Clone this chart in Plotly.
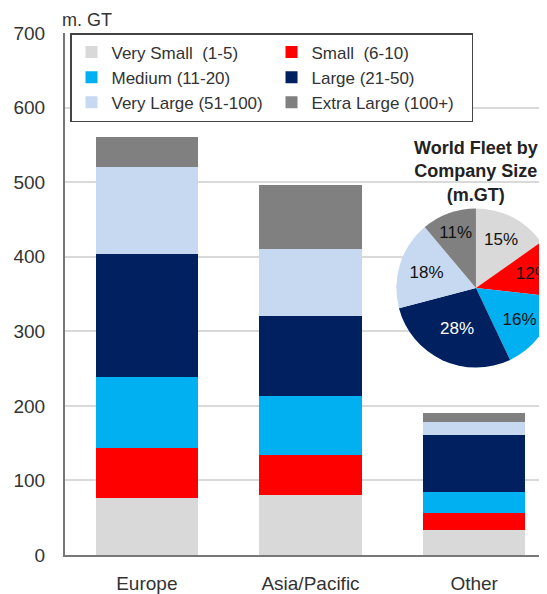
import plotly.graph_objects as go

regions = ["Europe", "Asia/Pacific", "Other"]
size_names = ["Very Small  (1-5)", "Small  (6-10)", "Medium (11-20)",
              "Large (21-50)", "Very Large (51-100)", "Extra Large (100+)"]
very_small = [76, 81, 33]
small = [68, 53, 23]
medium = [95, 79, 28]
large = [164, 108, 77]
very_large = [117, 90, 17]
extra_large = [41, 85, 13]
series = [very_small, small, medium, large, very_large, extra_large]
colors = ["#d9d9d9", "#ff0000", "#00b0f0", "#002060", "#c6d9f1", "#808080"]
pie_text_colors = ["#111111", "#111111", "#111111", "#ffffff", "#111111", "#111111"]
y_ticks = [0, 100, 200, 300, 400, 500, 600, 700]

FONT = "Liberation Sans, Arial, sans-serif"
W, H = 548, 586
fig = go.Figure()
for name, vals, col in zip(size_names, series, colors):
    fig.add_trace(go.Bar(x=regions, y=vals, name=name, marker=dict(color=col, line=dict(width=0))))

totals = [sum(s) for s in series]
fig.add_trace(go.Pie(
    labels=size_names, values=totals, sort=False, direction="clockwise", rotation=0,
    marker=dict(colors=colors, line=dict(width=0)),
    textinfo="percent", textposition="inside", insidetextorientation="horizontal",
    texttemplate="%{percent:.0%}",
    textfont=dict(size=17, color=pie_text_colors, family=FONT),
    insidetextfont=dict(size=17, color=pie_text_colors, family=FONT),
    showlegend=False, hoverinfo="label+percent",
    domain=dict(x=[0.674, 1.0], y=[0.359, 0.664]),
))

fig.update_layout(
    width=W, height=H, barmode="stack", bargap=0.373,
    margin=dict(l=57, r=0, t=25, b=35),
    plot_bgcolor="white", paper_bgcolor="white",
    font=dict(family=FONT, size=19, color="#333333"),
    legend=dict(
        orientation="h", x=0.0102, y=1.0, xanchor="left", yanchor="top",
        traceorder="normal", entrywidth=155, entrywidthmode="pixels",
        bgcolor="white", bordercolor="#444444", borderwidth=1.5,
        font=dict(size=17, color="#333333"),
        tracegroupgap=0,
    ),
    annotations=[
        dict(text="m. GT", x=-0.01, y=1.0, xref="paper", yref="paper",
             xanchor="left", yanchor="bottom", yshift=1, showarrow=False,
             font=dict(size=18, color="#333333")),
        dict(text="<b>World Fleet by<br>Company Size<br>(m.GT)</b>", x=0.837, y=0.734,
             xref="paper", yref="paper", xanchor="center", yanchor="middle",
             showarrow=False, font=dict(size=18, color="#222222")),
    ],
)
fig.update_yaxes(range=[0, 700], tickvals=y_ticks, showgrid=True, gridcolor="#d9d9d9",
                 gridwidth=1.5, showline=True, linecolor="#777777", linewidth=2,
                 ticks="", ticklabelstandoff=14, zeroline=False,
                 tickfont=dict(size=19, color="#333333"))
fig.update_xaxes(range=[-0.5, 2.5], showline=True, linecolor="#777777", linewidth=2,
                 ticks="", ticklabelstandoff=10, tickfont=dict(size=19, color="#333333"))

fig.write_html("out.html")
